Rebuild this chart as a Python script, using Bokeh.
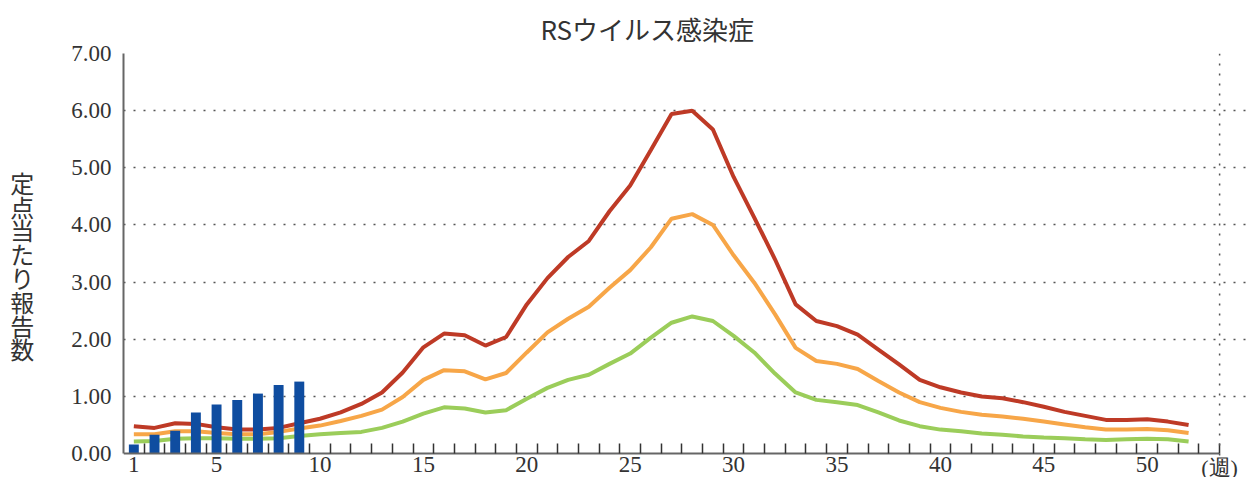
from bokeh.plotting import figure
from bokeh.models import Range1d, FixedTicker, NumeralTickFormatter, Span
from bokeh.core.properties import value
from bokeh.embed import file_html
from bokeh.resources import INLINE

title_text = "RSウイルス感染症"
y_label = "定\n点\n当\nた\nり\n報\n告\n数"

bar_weeks = [1, 2, 3, 4, 5, 6, 7, 8, 9]
bar_values = [0.16, 0.33, 0.40, 0.72, 0.86, 0.94, 1.05, 1.20, 1.26]

weeks = list(range(1, 53))
red_values = [0.48, 0.45, 0.53, 0.52, 0.46, 0.42, 0.42, 0.45, 0.53, 0.61,
              0.72, 0.87, 1.07, 1.42, 1.86, 2.10, 2.07, 1.89, 2.04, 2.61,
              3.07, 3.44, 3.72, 4.24, 4.69, 5.31, 5.94, 6.00, 5.67, 4.84,
              4.13, 3.40, 2.61, 2.32, 2.23, 2.08, 1.82, 1.56, 1.29, 1.16,
              1.07, 1.00, 0.97, 0.90, 0.82, 0.73, 0.66, 0.59, 0.59, 0.60,
              0.56, 0.50]
orange_values = [0.34, 0.34, 0.39, 0.39, 0.36, 0.34, 0.34, 0.38, 0.44, 0.49,
                 0.57, 0.66, 0.77, 0.99, 1.29, 1.46, 1.44, 1.30, 1.41, 1.77,
                 2.12, 2.36, 2.57, 2.90, 3.21, 3.61, 4.11, 4.19, 4.00, 3.47,
                 2.99, 2.44, 1.85, 1.62, 1.57, 1.48, 1.27, 1.07, 0.90, 0.80,
                 0.73, 0.68, 0.65, 0.61, 0.56, 0.51, 0.46, 0.42, 0.42, 0.43,
                 0.41, 0.36]
green_values = [0.21, 0.22, 0.26, 0.27, 0.27, 0.26, 0.26, 0.27, 0.31, 0.34,
                0.36, 0.38, 0.45, 0.56, 0.70, 0.81, 0.79, 0.72, 0.76, 0.96,
                1.15, 1.29, 1.38, 1.57, 1.75, 2.03, 2.29, 2.40, 2.32, 2.06,
                1.77, 1.40, 1.07, 0.94, 0.90, 0.85, 0.72, 0.58, 0.48, 0.42,
                0.39, 0.35, 0.33, 0.30, 0.28, 0.27, 0.25, 0.24, 0.25, 0.26,
                0.25, 0.21]

x_tick_pos = [1, 5, 10, 15, 20, 25, 30, 35, 40, 45, 50]
x_tick_labels = ["1", "5", "10", "15", "20", "25", "30", "35", "40", "45", "50"]
x_unit_pos = [53.5]
x_unit_label = ["(週)"]
x_minor = [w + 0.5 for w in range(1, 54)]
y_ticks = [0, 1, 2, 3, 4, 5, 6, 7]

# the frame runs to the window's right and bottom edges so the tick labels
# (drawn as text inside it) may reach the edge, as in the reference
p = figure(width=1246, height=477, output_backend="svg", toolbar_location=None,
           x_range=Range1d(0.5, 54.8), y_range=Range1d(-0.418, 7),
           min_border_left=123, min_border_right=0, min_border_top=52,
           min_border_bottom=0)
p.outline_line_color = None
p.background_fill_color = "white"

p.title.text = title_text
p.title.align = "left"
p.title.offset = 417
p.title.text_font = "Noto Sans CJK JP"
p.title.text_font_size = "26px"
p.title.text_font_style = "normal"
p.title.text_color = "#333333"
p.title.standoff = 14

p.line(weeks, red_values, line_color="#BE3A26", line_width=4)
p.line(weeks, orange_values, line_color="#F7A648", line_width=4)
p.line(weeks, green_values, line_color="#9BCD5A", line_width=4)
p.vbar(x=bar_weeks, top=bar_values, width=0.48, bottom=0, fill_color="#0F4DA0", line_color=None)

# grid
p.xgrid.grid_line_color = None
p.ygrid.ticker = FixedTicker(ticks=y_ticks[1:])
p.ygrid.grid_line_color = "#555555"
p.ygrid.grid_line_dash = "2 8"
p.ygrid.grid_line_width = 1.5
p.ygrid.bounds = (0.5, 53.5)
p.add_layout(Span(location=53.5, dimension="height", line_color="#555555",
                  line_dash="2 8", line_width=1.5))

# y axis
ya = p.yaxis[0]
ya.ticker = FixedTicker(ticks=y_ticks)
ya.bounds = (0, 7)
ya.formatter = NumeralTickFormatter(format="0.00")
ya.major_tick_in = 0
ya.major_tick_out = 0
ya.minor_tick_in = 0
ya.minor_tick_out = 0
ya.axis_line_color = "#666666"
ya.axis_line_width = 2
ya.major_label_text_font = "Liberation Serif"
ya.major_label_text_font_size = "23px"
ya.major_label_text_color = "#333333"
ya.major_label_standoff = 12
ya.axis_label = y_label
ya.axis_label_orientation = "horizontal"
ya.axis_label_text_font = "Noto Sans CJK JP"
ya.axis_label_text_font_size = "24px"
ya.axis_label_text_line_height = 0.68
ya.axis_label_text_font_style = "normal"
ya.axis_label_text_color = "#333333"
ya.axis_label_standoff = 34

# x axis drawn at y = 0 inside the frame
xa = p.xaxis[0]
xa.fixed_location = 0
xa.bounds = (0.5, 53.5)
xa.ticker = FixedTicker(ticks=x_tick_pos, minor_ticks=x_minor)
xa.major_tick_in = 0
xa.major_tick_out = 0
xa.minor_tick_in = 10
xa.minor_tick_out = 0
xa.minor_tick_line_color = "#333333"
xa.minor_tick_line_width = 1.5
xa.axis_line_color = "#666666"
xa.axis_line_width = 2
xa.major_label_text_font_size = "0px"
xa.major_label_text_alpha = 0
xa.major_label_standoff = 0

p.text(x=x_tick_pos, y=[0] * len(x_tick_pos), text=x_tick_labels, y_offset=3,
       text_align="center", text_baseline="top",
       text_font=value("Liberation Serif"), text_font_size="23px",
       text_color="#333333")
p.text(x=x_unit_pos, y=[0], text=x_unit_label, y_offset=1,
       text_align="center", text_baseline="top",
       text_font=value("Liberation Serif"), text_font_size="22px",
       text_color="#333333")

open("out.html", "w").write(file_html(p, INLINE))
